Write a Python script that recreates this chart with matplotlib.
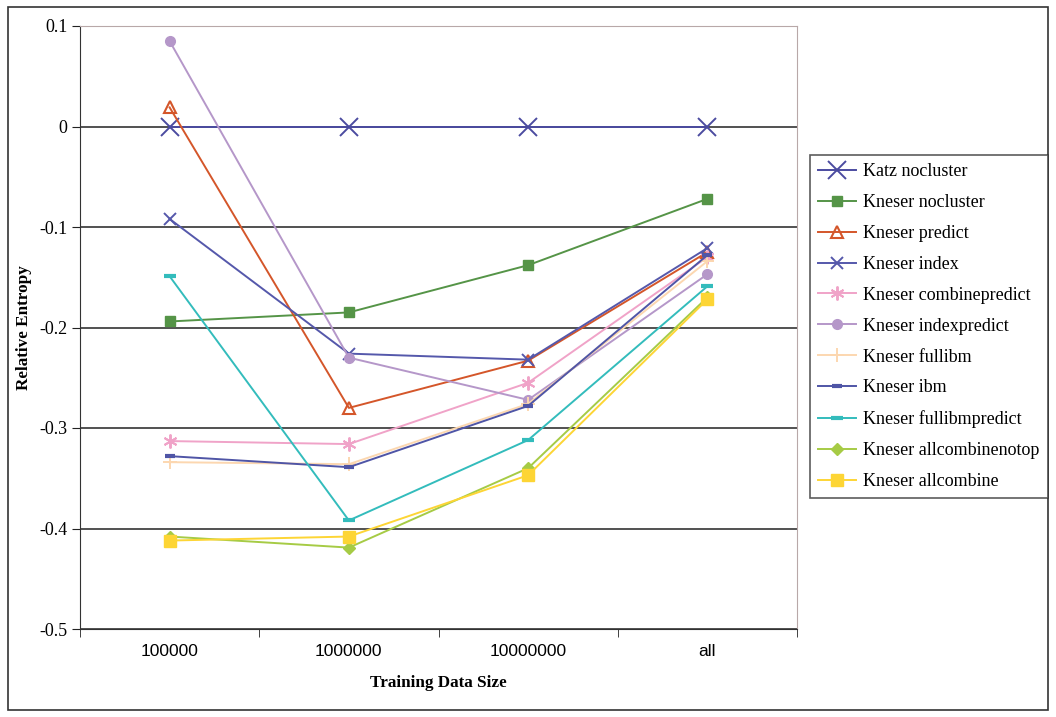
import matplotlib.pyplot as plt
from matplotlib.patches import Rectangle

categories = ['100000', '1000000', '10000000', 'all']

series_names = [
    'Katz nocluster', 'Kneser nocluster', 'Kneser predict', 'Kneser index',
    'Kneser combinepredict', 'Kneser indexpredict', 'Kneser fullibm',
    'Kneser ibm', 'Kneser fullibmpredict', 'Kneser allcombinenotop',
    'Kneser allcombine',
]

katz_nocluster = [0.0, 0.0, 0.0, 0.0]
kneser_nocluster = [-0.194, -0.185, -0.138, -0.072]
kneser_predict = [0.019, -0.280, -0.233, -0.125]
kneser_index = [-0.092, -0.226, -0.232, -0.121]
kneser_combinepredict = [-0.313, -0.316, -0.255, -0.130]
kneser_indexpredict = [0.085, -0.230, -0.272, -0.147]
kneser_fullibm = [-0.334, -0.336, -0.276, -0.134]
kneser_ibm = [-0.328, -0.339, -0.278, -0.128]
kneser_fullibmpredict = [-0.149, -0.392, -0.312, -0.159]
kneser_allcombinenotop = [-0.408, -0.419, -0.340, -0.170]
kneser_allcombine = [-0.412, -0.408, -0.347, -0.172]

values = [katz_nocluster, kneser_nocluster, kneser_predict, kneser_index,
          kneser_combinepredict, kneser_indexpredict, kneser_fullibm,
          kneser_ibm, kneser_fullibmpredict, kneser_allcombinenotop,
          kneser_allcombine]

# colour, marker, marker size, filled
styles = [
    ('#4b4ba0', 'x', 13, True),
    ('#559447', 's', 7, True),
    ('#d4562a', '^', 9, False),
    ('#5558ab', 'x', 8, True),
    ('#f0a3c8', (6, 2, 0), 10, True),
    ('#b597c9', 'o', 7, True),
    ('#fcd7b0', '+', 10, True),
    ('#4f55a6', '_', 7, True),
    ('#33bcbc', '_', 9, True),
    ('#a6cb45', 'D', 6, True),
    ('#fdd535', 's', 8, True),
]

serif = ['Liberation Serif', 'DejaVu Serif']
sans = ['Liberation Sans', 'DejaVu Sans']

fig = plt.figure(figsize=(10.56, 7.17), dpi=100)
ax = fig.add_axes([80 / 1056, 1 - 629 / 717, 717 / 1056, 603 / 717])

x = list(range(len(categories)))
for name, vals, (col, mk, ms, filled) in zip(series_names, values, styles):
    kw = dict(color=col, marker=mk, markersize=ms, linewidth=1.4, label=name)
    if mk in ('x', '+', '_') or isinstance(mk, tuple):
        kw['markeredgewidth'] = 1.4 if mk != '_' else 3
    if not filled:
        kw['markerfacecolor'] = 'none'
        kw['markeredgewidth'] = 1.5
    ax.plot(x, vals, **kw)

ax.set_xlim(-0.5, 3.5)
ax.set_ylim(-0.5, 0.1)
ax.set_yticks([0.1, 0, -0.1, -0.2, -0.3, -0.4, -0.5])
ax.set_yticklabels(['0.1', '0', '-0.1', '-0.2', '-0.3', '-0.4', '-0.5'],
                   family=serif, fontsize=13)
ax.set_xticks(x)
ax.set_xticklabels(categories, family=sans, fontsize=12.5)
ax.tick_params(axis='x', length=0, pad=11)
ax.set_xticks([-0.5, 0.5, 1.5, 2.5, 3.5], minor=True)
ax.tick_params(axis='x', which='minor', length=6, color='#222222')
ax.tick_params(axis='y', length=6, color='#222222', pad=3)

ax.grid(axis='y', color='#333333', linewidth=1.2)
ax.set_axisbelow(True)
for side in ('top', 'right'):
    ax.spines[side].set_color('#b8a8a8')
for side in ('left', 'bottom'):
    ax.spines[side].set_color('#333333')

ax.set_ylabel('Relative Entropy', family=serif, fontweight='bold', fontsize=12.3)
ax.set_xlabel('Training Data Size', family=serif, fontweight='bold', fontsize=12.3)
ax.yaxis.set_label_coords(-56 / 717, 0.5)
ax.xaxis.set_label_coords(0.5, -54 / 603)
ax.xaxis.label.set_va('center')
ax.yaxis.label.set_va('center')

leg = fig.legend(loc='upper left', bbox_to_anchor=(810 / 1056, 1 - 155 / 717),
                 prop={'family': serif, 'size': 13}, frameon=True, fancybox=False,
                 edgecolor='#333333', handlelength=2.1, labelspacing=0.77,
                 borderpad=0.45, borderaxespad=0, handletextpad=0.4)
leg.get_frame().set_linewidth(1.2)

fig.patches.append(Rectangle((8 / 1056, 1 - 710 / 717), 1040 / 1056, 703 / 717,
                             transform=fig.transFigure, fill=False,
                             edgecolor='#333333', linewidth=1.2))

fig.savefig('out.png', dpi=100)
